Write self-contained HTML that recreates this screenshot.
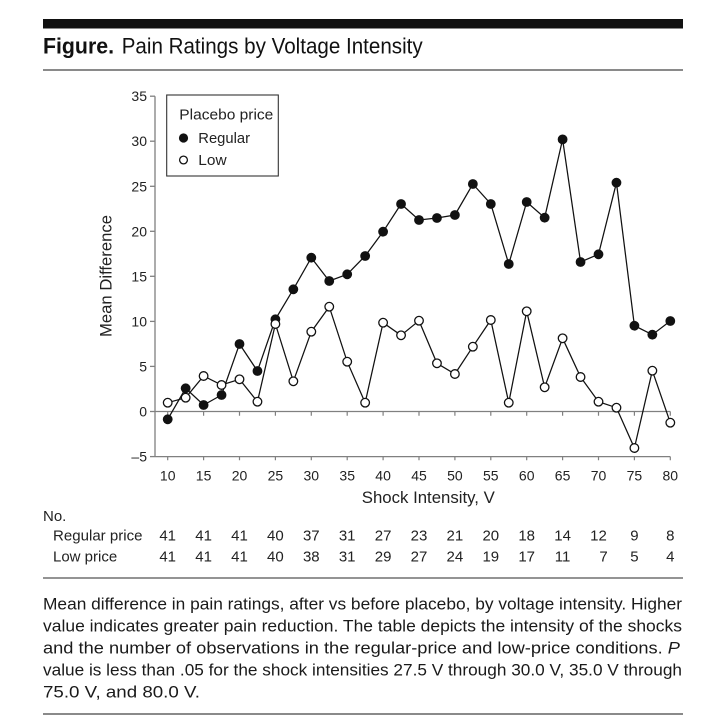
<!DOCTYPE html>
<html>
<head>
<meta charset="utf-8">
<style>
  html, body { margin: 0; padding: 0; background: #ffffff; }
  svg { display: block; }
  text { font-family: "Liberation Sans", "DejaVu Sans", sans-serif; }
</style>
</head>
<body>
<svg width="702" height="724" viewBox="0 0 702 724" xmlns="http://www.w3.org/2000/svg">
  <rect x="0" y="0" width="702" height="724" fill="#ffffff"/>

  <!-- Header -->
  <rect x="43" y="19" width="640" height="9.5" fill="#111"/>
  <text x="43" y="53.3" font-size="22" font-weight="bold" fill="#111" textLength="71" lengthAdjust="spacingAndGlyphs">Figure.</text>
  <text x="121.7" y="53.3" font-size="22" fill="#111" textLength="301" lengthAdjust="spacingAndGlyphs">Pain Ratings by Voltage Intensity</text>
  <line x1="43" y1="70" x2="683" y2="70" stroke="#444" stroke-width="1.2"/>

  <!-- Axes -->
  <g stroke="#808080" stroke-width="1.3" fill="none">
    <line x1="155" y1="96.2" x2="155" y2="456.6"/>
    <line x1="155" y1="411.5" x2="670.3" y2="411.5"/>
    <line x1="155" y1="456.6" x2="670.3" y2="456.6"/>
    <!-- y ticks -->
    <line x1="150" y1="96.2" x2="155" y2="96.2"/>
    <line x1="150" y1="141.2" x2="155" y2="141.2"/>
    <line x1="150" y1="186.3" x2="155" y2="186.3"/>
    <line x1="150" y1="231.3" x2="155" y2="231.3"/>
    <line x1="150" y1="276.3" x2="155" y2="276.3"/>
    <line x1="150" y1="321.4" x2="155" y2="321.4"/>
    <line x1="150" y1="366.4" x2="155" y2="366.4"/>
    <line x1="150" y1="411.5" x2="155" y2="411.5"/>
    <line x1="150" y1="456.6" x2="155" y2="456.6"/>
  </g>
  <g stroke="#808080" stroke-width="1.2">
    <!-- ticks on zero line and bottom line -->
    <path d="M167.7 411.5v4.3M203.6 411.5v4.3M239.5 411.5v4.3M275.4 411.5v4.3M311.3 411.5v4.3M347.2 411.5v4.3M383.1 411.5v4.3M419.0 411.5v4.3M454.9 411.5v4.3M490.8 411.5v4.3M526.7 411.5v4.3M562.6 411.5v4.3M598.5 411.5v4.3M634.4 411.5v4.3M670.3 411.5v4.3"/>
    <path d="M167.7 456.6v3.6M203.6 456.6v3.6M239.5 456.6v3.6M275.4 456.6v3.6M311.3 456.6v3.6M347.2 456.6v3.6M383.1 456.6v3.6M419.0 456.6v3.6M454.9 456.6v3.6M490.8 456.6v3.6M526.7 456.6v3.6M562.6 456.6v3.6M598.5 456.6v3.6M634.4 456.6v3.6M670.3 456.6v3.6"/>
  </g>

  <!-- Y tick labels -->
  <g font-size="14" fill="#222" text-anchor="end">
    <text x="147" y="101.2">35</text>
    <text x="147" y="146.2">30</text>
    <text x="147" y="191.3">25</text>
    <text x="147" y="236.3">20</text>
    <text x="147" y="281.3">15</text>
    <text x="147" y="326.4">10</text>
    <text x="147" y="371.4">5</text>
    <text x="147" y="416.5">0</text>
    <text x="147" y="461.6">–5</text>
  </g>

  <!-- X tick labels -->
  <g font-size="14" fill="#222" text-anchor="middle">
    <text x="167.7" y="480.5">10</text>
    <text x="203.6" y="480.5">15</text>
    <text x="239.5" y="480.5">20</text>
    <text x="275.4" y="480.5">25</text>
    <text x="311.3" y="480.5">30</text>
    <text x="347.2" y="480.5">35</text>
    <text x="383.1" y="480.5">40</text>
    <text x="419.0" y="480.5">45</text>
    <text x="454.9" y="480.5">50</text>
    <text x="490.8" y="480.5">55</text>
    <text x="526.7" y="480.5">60</text>
    <text x="562.6" y="480.5">65</text>
    <text x="598.5" y="480.5">70</text>
    <text x="634.4" y="480.5">75</text>
    <text x="670.3" y="480.5">80</text>
  </g>

  <!-- Axis titles -->
  <text x="428.3" y="503" font-size="16.5" fill="#222" text-anchor="middle" textLength="133" lengthAdjust="spacingAndGlyphs">Shock Intensity, V</text>
  <text transform="translate(111.5,276) rotate(-90)" x="0" y="0" font-size="16.5" fill="#222" text-anchor="middle" textLength="122" lengthAdjust="spacingAndGlyphs">Mean Difference</text>

  <!-- Legend -->
  <rect x="166.7" y="95" width="111.6" height="81" fill="#fff" stroke="#333" stroke-width="1.1"/>
  <text x="179.3" y="119.5" font-size="15" fill="#222" textLength="94" lengthAdjust="spacingAndGlyphs">Placebo price</text>
  <circle cx="183.5" cy="138" r="4.6" fill="#111"/>
  <text x="198.3" y="143.2" font-size="15" fill="#222" textLength="51.7" lengthAdjust="spacingAndGlyphs">Regular</text>
  <circle cx="183.5" cy="160" r="3.9" fill="#fff" stroke="#111" stroke-width="1.3"/>
  <text x="198.3" y="165.2" font-size="15" fill="#222" textLength="28.3" lengthAdjust="spacingAndGlyphs">Low</text>

  <!-- Series lines -->
  <polyline fill="none" stroke="#111" stroke-width="1.25" stroke-linejoin="miter"
    points="167.7,419.3 185.65,388.3 203.6,405 221.55,395 239.5,344 257.45,371 275.4,319.3 293.35,289.3 311.3,257.7 329.25,281 347.2,274.3 365.15,256 383.1,231.7 401.05,204 419.0,220 436.95,218 454.9,215 472.85,184 490.8,204 508.75,264 526.7,202 544.65,217.7 562.6,139.4 580.55,262 598.5,254.3 616.45,182.7 634.4,325.7 652.35,334.7 670.3,321"/>
  <polyline fill="none" stroke="#111" stroke-width="1.25" stroke-linejoin="miter"
    points="167.7,402.7 185.65,397.7 203.6,376 221.55,385 239.5,379.3 257.45,401.7 275.4,324 293.35,381.3 311.3,331.7 329.25,306.7 347.2,361.7 365.15,402.7 383.1,322.7 401.05,335.3 419.0,320.7 436.95,363.3 454.9,374 472.85,346.7 490.8,320 508.75,402.7 526.7,311.3 544.65,387.3 562.6,338.3 580.55,377 598.5,401.7 616.45,407.7 634.4,448 652.35,370.7 670.3,422.7"/>

  <!-- Regular markers (filled) -->
  <g fill="#111">
    <circle cx="167.7" cy="419.3" r="4.9"/>
    <circle cx="185.65" cy="388.3" r="4.9"/>
    <circle cx="203.6" cy="405" r="4.9"/>
    <circle cx="221.55" cy="395" r="4.9"/>
    <circle cx="239.5" cy="344" r="4.9"/>
    <circle cx="257.45" cy="371" r="4.9"/>
    <circle cx="275.4" cy="319.3" r="4.9"/>
    <circle cx="293.35" cy="289.3" r="4.9"/>
    <circle cx="311.3" cy="257.7" r="4.9"/>
    <circle cx="329.25" cy="281" r="4.9"/>
    <circle cx="347.2" cy="274.3" r="4.9"/>
    <circle cx="365.15" cy="256" r="4.9"/>
    <circle cx="383.1" cy="231.7" r="4.9"/>
    <circle cx="401.05" cy="204" r="4.9"/>
    <circle cx="419.0" cy="220" r="4.9"/>
    <circle cx="436.95" cy="218" r="4.9"/>
    <circle cx="454.9" cy="215" r="4.9"/>
    <circle cx="472.85" cy="184" r="4.9"/>
    <circle cx="490.8" cy="204" r="4.9"/>
    <circle cx="508.75" cy="264" r="4.9"/>
    <circle cx="526.7" cy="202" r="4.9"/>
    <circle cx="544.65" cy="217.7" r="4.9"/>
    <circle cx="562.6" cy="139.4" r="4.9"/>
    <circle cx="580.55" cy="262" r="4.9"/>
    <circle cx="598.5" cy="254.3" r="4.9"/>
    <circle cx="616.45" cy="182.7" r="4.9"/>
    <circle cx="634.4" cy="325.7" r="4.9"/>
    <circle cx="652.35" cy="334.7" r="4.9"/>
    <circle cx="670.3" cy="321" r="4.9"/>
  </g>

  <!-- Low markers (open) -->
  <g fill="#fff" stroke="#111" stroke-width="1.3">
    <circle cx="167.7" cy="402.7" r="4.3"/>
    <circle cx="185.65" cy="397.7" r="4.3"/>
    <circle cx="203.6" cy="376" r="4.3"/>
    <circle cx="221.55" cy="385" r="4.3"/>
    <circle cx="239.5" cy="379.3" r="4.3"/>
    <circle cx="257.45" cy="401.7" r="4.3"/>
    <circle cx="275.4" cy="324" r="4.3"/>
    <circle cx="293.35" cy="381.3" r="4.3"/>
    <circle cx="311.3" cy="331.7" r="4.3"/>
    <circle cx="329.25" cy="306.7" r="4.3"/>
    <circle cx="347.2" cy="361.7" r="4.3"/>
    <circle cx="365.15" cy="402.7" r="4.3"/>
    <circle cx="383.1" cy="322.7" r="4.3"/>
    <circle cx="401.05" cy="335.3" r="4.3"/>
    <circle cx="419.0" cy="320.7" r="4.3"/>
    <circle cx="436.95" cy="363.3" r="4.3"/>
    <circle cx="454.9" cy="374" r="4.3"/>
    <circle cx="472.85" cy="346.7" r="4.3"/>
    <circle cx="490.8" cy="320" r="4.3"/>
    <circle cx="508.75" cy="402.7" r="4.3"/>
    <circle cx="526.7" cy="311.3" r="4.3"/>
    <circle cx="544.65" cy="387.3" r="4.3"/>
    <circle cx="562.6" cy="338.3" r="4.3"/>
    <circle cx="580.55" cy="377" r="4.3"/>
    <circle cx="598.5" cy="401.7" r="4.3"/>
    <circle cx="616.45" cy="407.7" r="4.3"/>
    <circle cx="634.4" cy="448" r="4.3"/>
    <circle cx="652.35" cy="370.7" r="4.3"/>
    <circle cx="670.3" cy="422.7" r="4.3"/>
  </g>

  <!-- Table -->
  <g font-size="15" fill="#222">
    <text x="43" y="521">No.</text>
    <text x="53" y="540.5" textLength="89.5" lengthAdjust="spacingAndGlyphs">Regular price</text>
    <text x="53" y="561.5">Low price</text>
  </g>
  <g font-size="15" fill="#222" text-anchor="middle">
    <text x="167.7" y="540.5">41</text>
    <text x="203.6" y="540.5">41</text>
    <text x="239.5" y="540.5">41</text>
    <text x="275.4" y="540.5">40</text>
    <text x="311.3" y="540.5">37</text>
    <text x="347.2" y="540.5">31</text>
    <text x="383.1" y="540.5">27</text>
    <text x="419.0" y="540.5">23</text>
    <text x="454.9" y="540.5">21</text>
    <text x="490.8" y="540.5">20</text>
    <text x="526.7" y="540.5">18</text>
    <text x="562.6" y="540.5">14</text>
    <text x="598.5" y="540.5">12</text>
    <text x="634.4" y="540.5">9</text>
    <text x="670.3" y="540.5">8</text>

    <text x="167.7" y="561.5">41</text>
    <text x="203.6" y="561.5">41</text>
    <text x="239.5" y="561.5">41</text>
    <text x="275.4" y="561.5">40</text>
    <text x="311.3" y="561.5">38</text>
    <text x="347.2" y="561.5">31</text>
    <text x="383.1" y="561.5">29</text>
    <text x="419.0" y="561.5">27</text>
    <text x="454.9" y="561.5">24</text>
    <text x="490.8" y="561.5">19</text>
    <text x="526.7" y="561.5">17</text>
    <text x="562.6" y="561.5">11</text>
    <text x="603.5" y="561.5">7</text>
    <text x="634.4" y="561.5">5</text>
    <text x="670.3" y="561.5">4</text>
  </g>
  <line x1="43" y1="578" x2="683" y2="578" stroke="#555" stroke-width="1.2"/>

  <!-- Caption -->
  <g font-size="17" fill="#1a1a1a">
    <text x="43" y="609.5" textLength="639" lengthAdjust="spacingAndGlyphs">Mean difference in pain ratings, after vs before placebo, by voltage intensity. Higher</text>
    <text x="43" y="631.5" textLength="639" lengthAdjust="spacingAndGlyphs">value indicates greater pain reduction. The table depicts the intensity of the shocks</text>
    <text x="43" y="653.5" textLength="637" lengthAdjust="spacingAndGlyphs">and the number of observations in the regular-price and low-price conditions. <tspan font-style="italic">P</tspan></text>
    <text x="43" y="675.5" textLength="639" lengthAdjust="spacingAndGlyphs">value is less than .05 for the shock intensities 27.5 V through 30.0 V, 35.0 V through</text>
    <text x="43" y="697.5" textLength="157" lengthAdjust="spacingAndGlyphs">75.0 V, and 80.0 V.</text>
  </g>
  <line x1="43" y1="714" x2="683" y2="714" stroke="#444" stroke-width="1.2"/>
</svg>
</body>
</html>
